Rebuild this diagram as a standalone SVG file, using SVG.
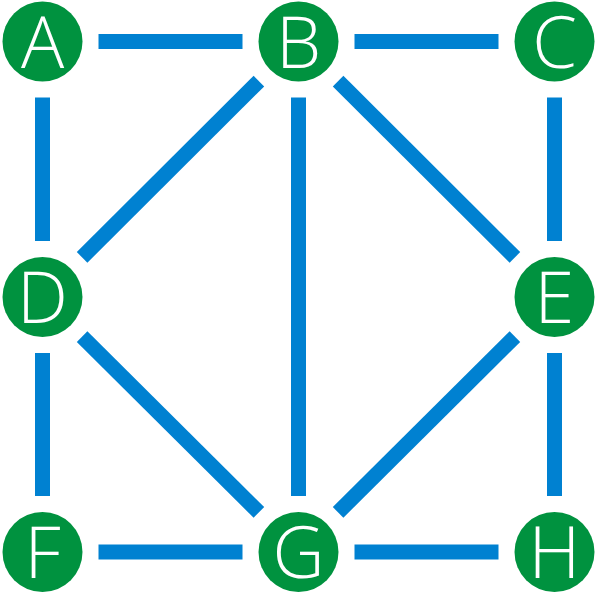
<svg xmlns="http://www.w3.org/2000/svg" width="595" height="593" viewBox="0 0 595 593">
<style>
.e{stroke:#0081D1;stroke-width:15;stroke-linecap:butt;fill:none}
.n circle{fill:#00923F}
.n text{fill:#fff;font-family:"Open Sans","Lato","DejaVu Sans",sans-serif;font-weight:300;font-size:72px;text-anchor:middle}
</style>
<rect width="595" height="593" fill="#fff"/>
<g id="edges">
<line class="e" x1="98.5" y1="41.5" x2="242.5" y2="41.5"/>
<line class="e" x1="354.5" y1="41.5" x2="498.5" y2="41.5"/>
<line class="e" x1="42.5" y1="97.5" x2="42.5" y2="241"/>
<line class="e" x1="554.5" y1="97.5" x2="554.5" y2="241"/>
<line class="e" x1="42.5" y1="353" x2="42.5" y2="496"/>
<line class="e" x1="554.5" y1="353" x2="554.5" y2="496"/>
<line class="e" x1="98.5" y1="552" x2="242.5" y2="552"/>
<line class="e" x1="354.5" y1="552" x2="498.5" y2="552"/>
<line class="e" x1="298.5" y1="97.5" x2="298.5" y2="496"/>
<line class="e" x1="258.9" y1="81.1" x2="82.1" y2="257.4"/>
<line class="e" x1="338.1" y1="81.1" x2="514.9" y2="257.4"/>
<line class="e" x1="82.1" y1="336.6" x2="258.9" y2="512.4"/>
<line class="e" x1="514.9" y1="336.6" x2="338.1" y2="512.4"/>
</g>
<g id="A" class="n"><circle cx="42.5" cy="41.5" r="40"/><text x="42.5" y="67.5">A</text></g>
<g id="B" class="n"><circle cx="298.5" cy="41.5" r="40"/><text x="298.5" y="67.5">B</text></g>
<g id="C" class="n"><circle cx="554.5" cy="41.5" r="40"/><text x="554.5" y="67.5">C</text></g>
<g id="D" class="n"><circle cx="42.5" cy="297" r="40"/><text x="42.5" y="323">D</text></g>
<g id="E" class="n"><circle cx="554.5" cy="297" r="40"/><text x="554.5" y="323">E</text></g>
<g id="F" class="n"><circle cx="42.5" cy="552" r="40"/><text x="42.5" y="578">F</text></g>
<g id="G" class="n"><circle cx="298.5" cy="552" r="40"/><text x="298.5" y="578">G</text></g>
<g id="H" class="n"><circle cx="554.5" cy="552" r="40"/><text x="554.5" y="578">H</text></g>
</svg>
